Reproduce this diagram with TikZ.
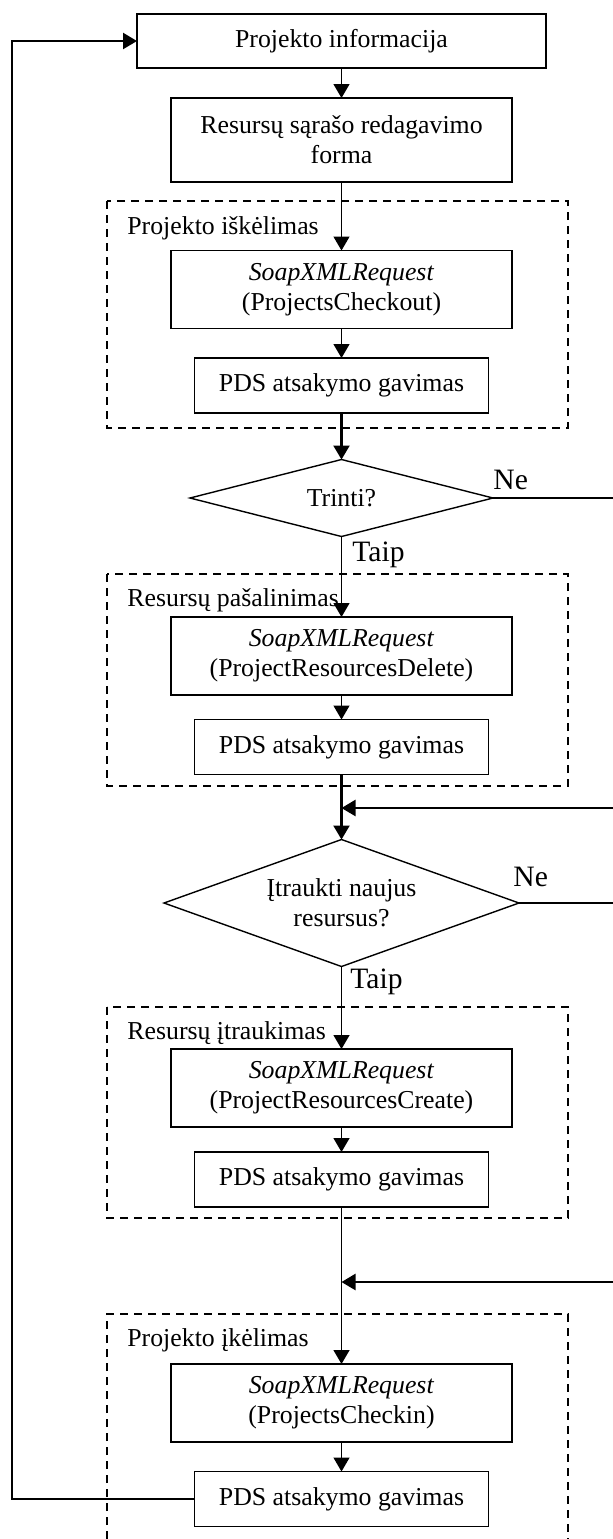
\documentclass[tikz,border=0pt]{standalone}
\usepackage{fontspec}
\setmainfont{Liberation Serif}
\usetikzlibrary{arrows.meta,shapes.geometric}

\begin{document}
\begin{tikzpicture}[x=0.5pt,y=-0.5pt,
  txt/.style={font=\fontsize{12.9}{15}\selectfont},
  big/.style={font=\fontsize{14.8}{17}\selectfont},
  box/.style={txt,draw,line width=0.75pt,align=center,inner sep=0pt,outer sep=0pt},
  soap/.style={box,minimum width=170.5pt,minimum height=39pt},
  pds/.style={box,minimum width=147pt,minimum height=27.5pt},
  ask/.style={txt,draw,diamond,aspect=2.8,line width=0.7pt,align=center,inner sep=0pt,outer sep=0pt},
  group/.style={draw,line width=1.1pt,dash pattern=on 4pt off 3pt},
  thin/.style={line width=0.7pt,-{Triangle[length=7pt,width=8pt]}},
  thk/.style={line width=1.2pt,-{Triangle[length=7pt,width=8pt]}},
  plain/.style={line width=1.2pt}]
  \useasboundingbox (0,0) rectangle (613,1539);
  % dashed groups
  \draw[group] (107,201) rectangle (568,428);
  \draw[group] (107,574) rectangle (568,786);
  \draw[group] (107,1007) rectangle (568,1218);
  \draw[group] (107,1539) -- (107,1314) -- (568,1314) -- (568,1539);
  \node[txt,anchor=west,inner sep=0pt] (g1) at (127,228) {Projekto iškėlimas};
  \node[txt,anchor=west,inner sep=0pt] (g2) at (127,600) {Resursų pašalinimas};
  \node[txt,anchor=west,inner sep=0pt] (g3) at (127,1033) {Resursų įtraukimas};
  \node[txt,anchor=west,inner sep=0pt] (g4) at (127,1340) {Projekto įkėlimas};
  % top boxes
  \node[box,minimum width=204.5pt,minimum height=27pt] (info) at (341.5,41) {Projekto informacija};
  \node[box,minimum width=170.5pt,minimum height=42pt] (form) at (341.5,140) {Resursų sąrašo redagavimo\\forma};
  % checkout
  \node[soap] (out) at (341.5,289.5) {\textit{SoapXMLRequest}\\(ProjectsCheckout)};
  \node[pds] (pds1) at (341.5,385.5) {PDS atsakymo gavimas};
  \node[ask,minimum width=151.5pt,minimum height=38.5pt] (del) at (341.5,498) {Trinti?};
  % delete
  \node[soap] (rdel) at (341.5,656) {\textit{SoapXMLRequest}\\(ProjectResourcesDelete)};
  \node[pds] (pds2) at (341.5,747) {PDS atsakymo gavimas};
  \coordinate (m1) at (341.5,808);
  \node[ask,minimum width=177.5pt,minimum height=63.5pt] (add) at (341.5,903) {Įtraukti naujus\\resursus?};
  % create
  \node[soap] (rnew) at (341.5,1088) {\textit{SoapXMLRequest}\\(ProjectResourcesCreate)};
  \node[pds] (pds3) at (341.5,1179.5) {PDS atsakymo gavimas};
  \coordinate (m2) at (341.5,1282);
  % checkin
  \node[soap] (in) at (341.5,1403) {\textit{SoapXMLRequest}\\(ProjectsCheckin)};
  \node[pds] (pds4) at (341.5,1499) {PDS atsakymo gavimas};
  % labels
  \node[big,anchor=west,inner sep=0pt] (ne1) at (493,480) {Ne};
  \node[big,anchor=west,inner sep=0pt] (taip1) at (352,555) {Taip};
  \node[big,anchor=west,inner sep=0pt] (ne2) at (513,877) {Ne};
  \node[big,anchor=west,inner sep=0pt] (taip2) at (350,982) {Taip};
  % free ends at the right edge
  \coordinate (r1) at (613,498);
  \coordinate (r2) at (613,808);
  \coordinate (r3) at (613,903);
  \coordinate (r4) at (613,1282);
  \coordinate (c1) at (12,1499);
  \coordinate (c2) at (12,41);
  % connectors
  \draw[thin] (info) -- (form);
  \draw[thin] (form) -- (out);
  \draw[thin] (out) -- (pds1);
  \draw[thk] (pds1) -- (del);
  \draw[thin] (del) -- (rdel);
  \draw[thin] (rdel) -- (pds2);
  \draw[plain] (pds2) -- (m1);
  \draw[thk] (m1) -- (add);
  \draw[thin] (add) -- (rnew);
  \draw[thin] (rnew) -- (pds3);
  \draw[line width=0.7pt] (pds3) -- (m2);
  \draw[thin] (m2) -- (in);
  \draw[thin] (in) -- (pds4);
  \draw[plain] (del.east) -- (r1);
  \draw[plain] (add.east) -- (r3);
  \draw[thk] (r2) -- (m1);
  \draw[thk] (r4) -- (m2);
  \draw[thk] (pds4.west) -- (c1) -- (c2) -- (info.west);
\end{tikzpicture}
\end{document}
